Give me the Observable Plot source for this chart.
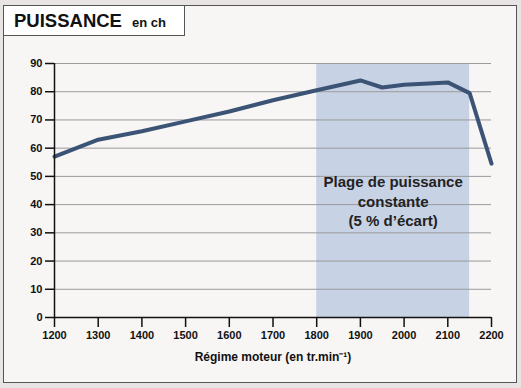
<!DOCTYPE html>
<html>
<head>
<meta charset="utf-8">
<script src="https://cdn.jsdelivr.net/npm/d3@7"></script>
<script src="https://cdn.jsdelivr.net/npm/@observablehq/plot@0.6"></script>
<style>
  html, body { margin: 0; padding: 0; background: #e8e4e4; }
  #wrap { position: relative; width: 521px; height: 388px; overflow: hidden; font-family: "Liberation Sans", Arial, sans-serif; }
  #panel { position: absolute; left: 3px; top: 5px; width: 512px; height: 376px; background: #f8f5f5; border: 1px solid #555; }
  #title { position: absolute; left: 3px; top: 5px; width: 180px; height: 29px; background: #fff; border: 1px solid #555; box-sizing: content-box; }
  #title span.big { position: absolute; left: 10px; top: 5px; line-height: 20px; font-size: 18.5px; font-weight: bold; color: #111; }
  #title span.small { position: absolute; left: 128px; top: 9px; line-height: 16px; font-size: 13px; font-weight: bold; color: #111; }
  #chart { position: absolute; left: 0; top: 0; }
</style>
</head>
<body>
<div id="wrap">
  <div id="panel"></div>
  <div id="title"><span class="big">PUISSANCE</span><span class="small">en ch</span></div>
  <div id="chart"></div>
</div>
<script>
const regime = [1200, 1300, 1400, 1500, 1600, 1700, 1800, 1900, 1950, 2000, 2100, 2150, 2200];
const puissance = [57, 63, 66, 69.5, 73, 77, 80.5, 84, 81.5, 82.5, 83.3, 79.5, 54.5];
const xTicks = [1200, 1300, 1400, 1500, 1600, 1700, 1800, 1900, 2000, 2100, 2200];
const yTicks = [0, 10, 20, 30, 40, 50, 60, 70, 80, 90];
const plageDebut = 1800;
const plageFin = 2150;
const annotation = "Plage de puissance\nconstante\n(5 % d’écart)";
const xLabel = "Régime moteur (en tr.min⁻¹)";

const data = regime.map((r, i) => ({regime: r, puissance: puissance[i]}));

const chart = Plot.plot({
  width: 521,
  height: 388,
  marginLeft: 54,
  marginRight: 30,
  marginTop: 63,
  marginBottom: 71,
  style: {background: "transparent", fontFamily: "Liberation Sans, Arial, sans-serif", color: "#111"},
  x: {domain: [1200, 2200]},
  y: {domain: [0, 90]},
  marks: [
    Plot.rect([{x1: plageDebut, x2: plageFin}], {x1: "x1", x2: "x2", y1: 0, y2: 90, fill: "#c8d2e5"}),
    Plot.gridY(yTicks, {stroke: "#9a9a9a", strokeOpacity: 1, strokeWidth: 1}),
    Plot.text([annotation], {x: (plageDebut + plageFin) / 2, y: 41.5, text: d => d, fontSize: 15, fontWeight: "bold", fill: "#222", lineHeight: 1.3}),
    Plot.line(data, {x: "regime", y: "puissance", stroke: "#3b5475", strokeWidth: 4, strokeLinejoin: "miter", strokeLinecap: "round"}),
    Plot.ruleY([0], {stroke: "#111", strokeWidth: 1.5}),
    Plot.ruleX([1200], {stroke: "#111", strokeWidth: 1.5}),
    Plot.axisY({ticks: yTicks, tickSize: 9, tickPadding: 3, fontSize: 11, fontWeight: "bold", stroke: "#111", strokeWidth: 1.5, label: null}),
    Plot.axisX({ticks: xTicks, tickSize: 10, tickPadding: 4, fontSize: 11, fontWeight: "bold", stroke: "#111", strokeWidth: 1.5, tickFormat: d => String(d), label: null}),
    Plot.text([xLabel], {frameAnchor: "bottom", dy: 43, text: d => d, fontSize: 12, fontWeight: "bold", fill: "#111"})
  ]
});
document.getElementById("chart").appendChild(chart);
</script>
</body>
</html>
